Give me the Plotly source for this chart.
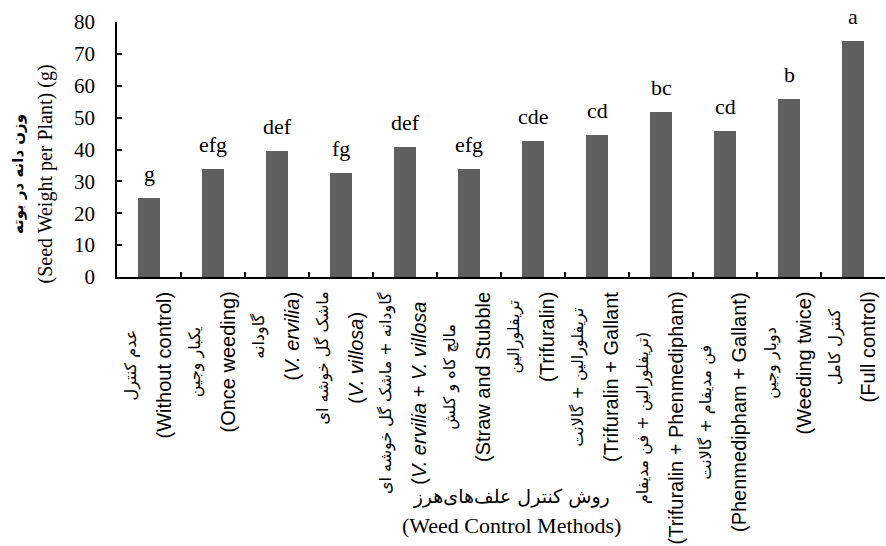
import plotly.graph_objects as go

# Treatments (English / Persian), mean seed weight per plant (g) and mean-separation letters
methods_en = [
    "(Without control)",
    "(Once weeding)",
    "(<i>V. ervilia</i>)",
    "(<i>V. villosa</i>)",
    "(<i>V. ervilia</i> + <i>V. villosa</i>",
    "(Straw and Stubble",
    "(Trifuralin)",
    "(Trifuralin + Gallant",
    "(Trifuralin + Phenmedipham)",
    "(Phenmedipham + Gallant)",
    "(Weeding twice)",
    "(Full control)",
]
methods_fa = [
    "عدم کنترل",
    "یکبار وجین",
    "گاودانه",
    "ماشک گل خوشه ای",
    "گاودانه + ماشک گل خوشه ای",
    "مالچ کاه و کلش",
    "تریفلورالین",
    "تریفلورالین + گالانت",
    "تریفلورالین + فن مدیفام)",
    "فن مدیفام + گالانت",
    "دوبار وجین",
    "کنترل کامل",
]
seed_weight = [24.7, 33.8, 39.6, 32.5, 40.9, 33.8, 42.8, 44.6, 51.8, 45.8, 56.0, 74.1]
letters = ["g", "efg", "def", "fg", "def", "efg", "cde", "cd", "bc", "cd", "b", "a"]
y_ticks = [0, 10, 20, 30, 40, 50, 60, 70, 80]

x_title_fa = "روش کنترل علف‌های‌هرز"
x_title_en = "(Weed Control Methods)"
y_title_fa = "وزن دانه در بوته"
y_title_en = "(Seed Weight per Plant) (g)"

SERIF = "Liberation Serif, Times New Roman, DejaVu Sans"
SANS = "Liberation Sans, Arial, DejaVu Sans"
FA = "DejaVu Sans"

cats = [f"t{i}" for i in range(len(seed_weight))]

fig = go.Figure(
    go.Bar(
        x=cats,
        y=seed_weight,
        width=0.33,
        marker=dict(color="#5f5f5f", line=dict(width=0)),
        hoverinfo="skip",
    )
)

annotations = []
# letters above bars
for c, v, t in zip(cats, seed_weight, letters):
    annotations.append(dict(
        x=c, y=v, xref="x", yref="y", text=t, showarrow=False,
        yanchor="bottom", xanchor="center", yshift=10,
        font=dict(family=SERIF, size=22, color="black"),
    ))
# rotated two-line category labels
for c, fa, en in zip(cats, methods_fa, methods_en):
    annotations.append(dict(
        x=c, y=0, xref="x", yref="y",
        text=(f"<span style='font-family:{FA};font-size:16px'>{fa}</span><br>"
              f"<span style='font-size:20px'>{en}</span>"),
        showarrow=False, textangle=-90, align="center",
        xanchor="center", yanchor="top", yshift=-13, xshift=-2,
        font=dict(family=SANS, size=27, color="black"),
    ))
# x-axis title
annotations.append(dict(
    x=0.5, y=0, xref="paper", yref="paper",
    text=(f"<span style='font-family:{FA};font-size:19px'>{x_title_fa}</span><br>"
          f"<span style='font-size:22px'>{x_title_en}</span>"),
    showarrow=False, align="center", xanchor="center", yanchor="top",
    xshift=10, yshift=-206,
    font=dict(family=SERIF, size=23, color="black"),
))
# y-axis title
annotations.append(dict(
    x=0, y=0.5, xref="paper", yref="paper",
    text=(f"<span style='font-family:{FA};font-size:15px;font-weight:bold'>{y_title_fa}</span><br>"
          f"<span style='font-size:20px'>{y_title_en}</span>"),
    showarrow=False, textangle=-90, align="center",
    xanchor="center", yanchor="middle", xshift=-84, yshift=-25,
    font=dict(family=SERIF, size=23, color="black"),
))

fig.update_layout(
    width=886, height=546,
    margin=dict(l=117, r=1, t=22, b=269),
    paper_bgcolor="white", plot_bgcolor="white",
    showlegend=False, bargap=0,
    annotations=annotations,
    xaxis=dict(
        type="category", showticklabels=False, showgrid=False,
        tickson="boundaries", ticks="inside", ticklen=5, tickwidth=1.5,
        tickcolor="black", showline=True, linecolor="black", linewidth=1.5,
        range=[-0.5, len(cats) - 0.5], zeroline=False, fixedrange=True,
    ),
    yaxis=dict(
        range=[0, 80], tickvals=y_ticks, showgrid=False, zeroline=False,
        ticks="inside", ticklen=5, tickwidth=1.5, tickcolor="black",
        showline=True, linecolor="black", linewidth=1.5,
        tickfont=dict(family=SERIF, size=21, color="black"),
        ticklabelstandoff=16, fixedrange=True,
    ),
)

fig.write_html("out.html")
